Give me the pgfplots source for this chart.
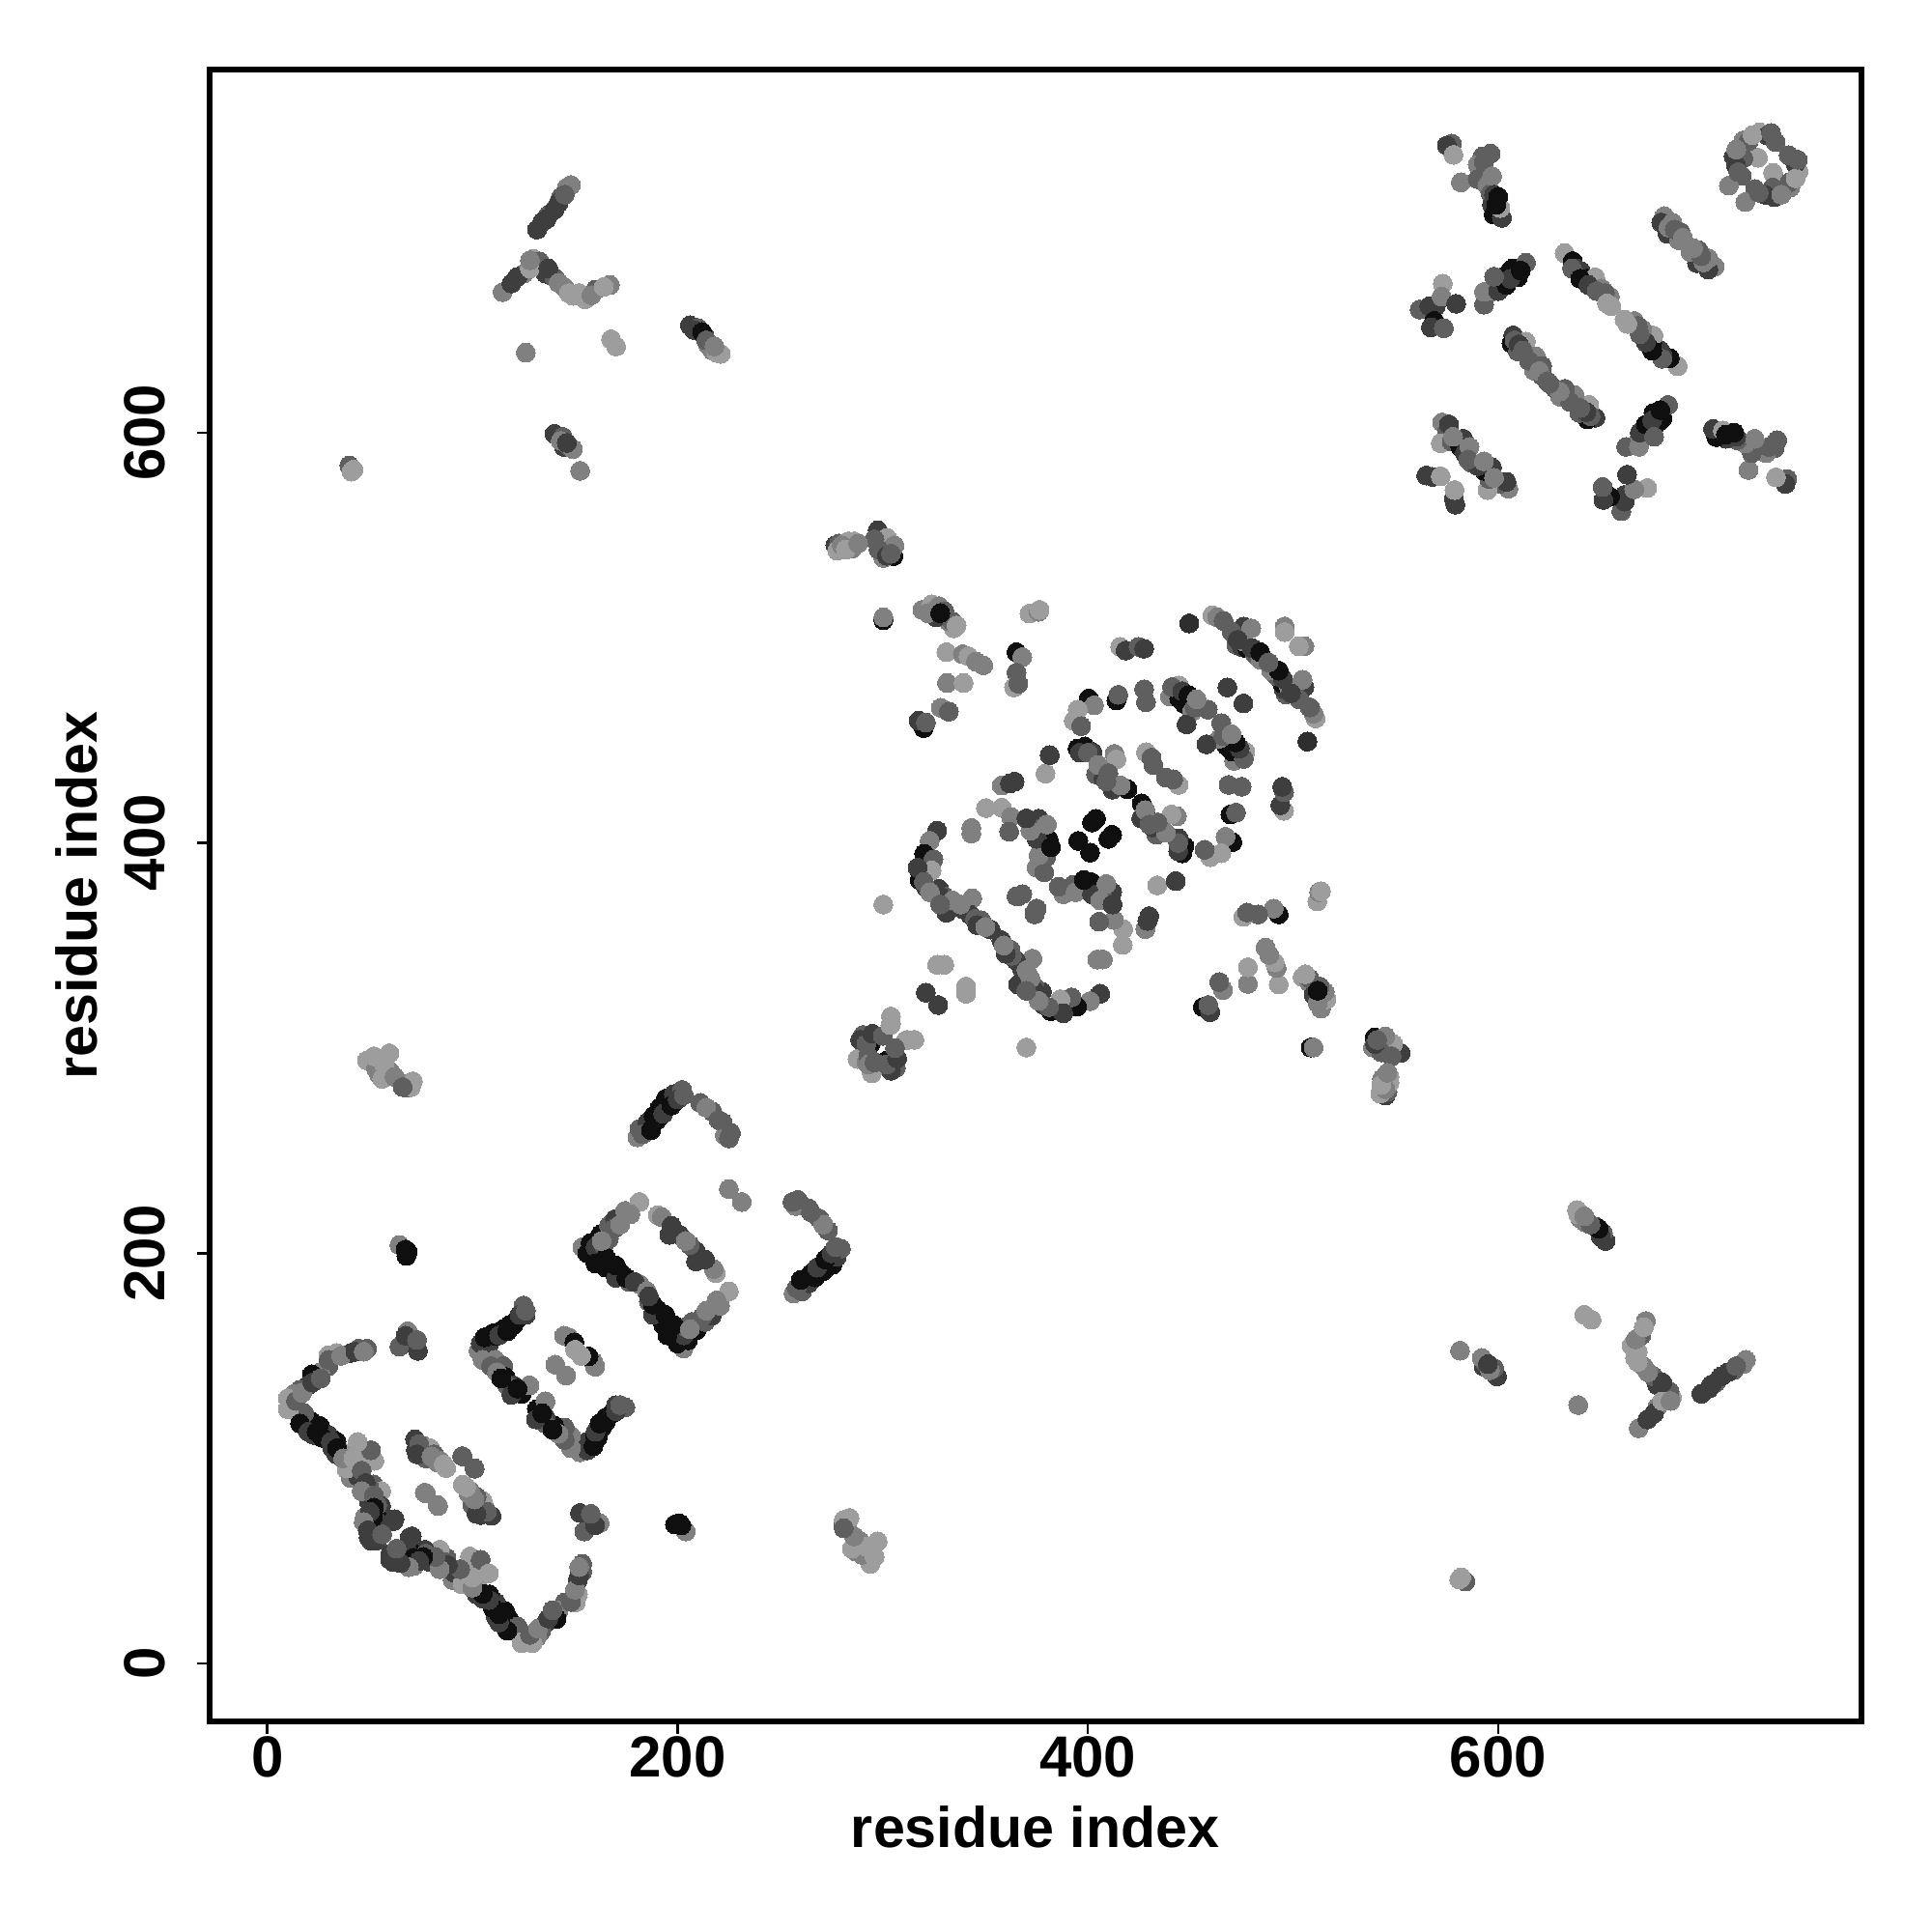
\documentclass[border=0pt]{standalone}
\usepackage{fontspec}
\setmainfont{Liberation Sans}
\usepackage{pgfplots}
\usepackage{pgfplotstable}
\pgfplotsset{compat=1.18}
\pgfplotstableread{
x y g
48.6 153.5 .37
44.6 153.5 .37
40.7 151.4 .24
33.7 151.4 .61
29.8 150.3 .61
29.8 145 .37
25.8 142 .5
21.8 141 .06
19.8 135.6 .24
15.9 133.5 .37
12.9 131.4 .5
10 129.3 .61
10 124 .61
17.9 119.9 .24
21.8 117.8 .06
25.8 115.7 .06
22.8 111.4 .24
29.8 111.4 .24
33.7 108.3 .06
31.7 105 .24
36.7 103 .61
44 107.3 .5
50.6 104 .37
52.2 98.8 .61
38.7 94.6 .61
44.6 90.4 .24
40.7 90.4 .5
51.6 87.3 .37
55.5 84.1 .61
49.6 78.9 .24
55.5 76.8 .24
47.6 71.5 .5
53.5 71.5 .06
61.5 69.4 .24
54.5 68.4 .24
50.6 59.9 .24
53.5 60 .24
62 70.4 .24
49.4 61.5 .24
51.5 71.4 .06
53.6 77.3 .37
49.4 87.2 .37
44.2 91.2 .24
39 95.2 .61
47.3 99.1 .61
50.5 104 .37
44 108 .61
33.7 102 .24
30.5 109 .24
25 116 .06
18 122 .37
10.6 124 .61
72 109.3 .24
72.4 104 .24
76.3 106 .5
79.3 105 .61
77.3 100 .37
81.3 102 .37
84.3 98.8 .5
87.2 95.3 .61
95.2 101 .37
101.1 95 .37
77.3 83 .5
83.3 76.8 .5
64.4 204 .5
67.4 201.8 .06
68.4 200.8 .06
67.8 198.7 .06
68.4 162 .5
64.4 154.5 .37
67.4 159.8 .24
73.4 152.4 .24
73 157.7 .37
48.6 294 .61
59.5 297.5 .61
54.5 287 .5
59.5 289 .5
68.4 280.7 .37
68.4 282.8 .5
71 283.8 .61
103 152.4 .5
107 150 .61
108 155.6 .24
111 159.8 .06
115 163 .06
118 165 .06
121.9 168 .06
125.9 170 .24
124.9 174.5 .37
111 148 .5
115 145 .37
116 139.8 .06
120 135.6 .24
117 135.6 .37
124 131.4 .06
127.8 135.6 .5
140.4 145.7 .5
144.7 159.8 .5
147 159 .5
149.7 156.6 .06
150 153 .61
153.6 202.9 .5
157.6 205 .06
162.5 209.2 .06
166.5 207 .37
166.5 213.4 .37
169.5 216.6 .24
174.4 220.7 .5
181.4 225 .61
158.6 198.7 .06
162.5 195.5 .06
167.5 192.4 .06
172.5 190.3 .06
176.4 186 .37
181.4 185 .5
190.3 218.6 .61
192.3 217.6 .5
197 213.4 .24
196 209 .24
201 209 .24
204 206 .37
206 204 .5
180.4 256.5 .5
181.4 260.7 .37
185.3 263.8 .24
188.3 267 .06
191.3 271 .06
194.3 275.4 .06
198.2 277.5 .24
202.2 279.6 .37
211.1 273.3 .37
217 269 .37
222 263.8 .37
223 257.5 .5
226 258.6 .37
225 231.3 .5
40 584 .37
41 581 .61
42 582 .61
131.5 699 .24
134 702.7 .24
137 706 .37
140 708.7 .24
143 714.7 .37
146 719.5 .5
148 720.7 .5
114.7 668.5 .5
119 672.7 .24
125 677.5 .5
129.7 684.7 .61
132.7 683.5 .37
135.7 677.5 .24
140 675.6 .37
144.7 671 .5
149 666.7 .61
155 665 .61
160 669.7 .37
167 672 .5
126 639 .5
167.6 645.5 .61
170 642 .61
206 652.3 .24
210 651 .37
213 647.3 .24
215 642.5 .5
217 640 .5
221 638.4 .61
140 599.4 .24
144 598 .37
144.7 593 .24
147 593.4 .37
149 592 .5
152.5 581.4 .5
276.9 545 .24
278.7 546 .37
277.8 542.5 .61
281.4 546 .5
283.2 547 .61
286 547 .61
285 543.4 .5
297.6 552.4 .24
299.4 546 .24
302 548.8 .61
305.2 539.8 .06
300.3 538.9 .5
305.7 545 .5
300.3 508.6 .06
300.3 510 .5
319.3 513.6 .5
323.8 516.3 .61
327.4 515.4 .5
330.1 511 .06
331.9 508.2 .24
334.6 504.6 .61
371.5 511.8 .61
376 512.7 .5
376.4 513.6 .61
331 493 .61
339 492 .5
341.8 491 .61
345.4 488.4 .5
349 486.6 .5
365.2 493 .06
368 490.6 .5
365.2 483 .37
364 475.8 .61
366.1 477.6 .37
331.3 478 .5
339.4 478 .61
328.3 465.9 .5
332.2 464 .37
320 456 .06
317.5 459.6 .24
321 458.7 .37
415.7 495.6 .61
418.4 493.8 .24
424.7 495.6 .37
427.4 494.7 .24
413.9 469.5 .06
414.8 472.2 .37
428.3 468.6 .37
427.4 474.9 .37
400.4 470.4 .06
403 467.1 .5
395 465 .61
393.1 459.6 .61
396.7 456.9 .37
449.4 507 .18
460.7 511 .61
463 510 .5
466.1 508.2 .37
476 505.5 .24
479.6 504.6 .5
495.9 505.5 .5
495.9 502.8 .61
472.4 496.5 .37
475 495.5 .24
477.8 494.7 .06
481.4 492 .37
484.1 489.3 .5
440 471.3 .5
444.5 476.7 .61
444.5 470.4 .06
447.2 467.7 .06
450.8 464.1 .5
448.1 457.8 .24
458.4 465 .37
468 475.8 .24
395 446 .06
398.5 447 .06
402.2 444.3 .24
413 443.4 .5
413.9 440.7 .61
428.3 444.2 .61
431 441.6 .37
431.9 438 .37
404 433.4 .37
407.6 431.6 .24
411 429 .06
413.9 428 .06
419.3 426.2 .06
358 428 .5
362 429 .24
364.3 429.9 .24
379.3 433.8 .61
381.4 442.8 .24
350.3 417 .61
358 417.2 .61
362.5 412.7 .5
361.6 405.5 .37
343.2 407.3 .5
343.2 404.6 .5
376 411.8 .24
373.3 407.3 .37
377.8 404.6 .06
380.9 401.6 .06
395.3 401 .06
402 410 .06
404 411.8 .06
326.5 406 .24
322.9 401 .5
320.2 394.7 .06
324.7 392 .37
323.8 386.6 .61
321 378.5 .24
324 377 .24
327.4 377.6 .24
330 374 .37
331 366 .24
339 367.7 .24
343.6 373 .5
342.7 365 .24
345 363 .37
348 362.3 .37
352.6 357.8 .24
365.2 374 .37
368 375 .37
374 366 .37
379.6 393 .37
375 388 .5
378.7 385.7 .37
300.3 370 .61
326.5 340.6 .61
330 340.6 .61
321 327 .24
304 315.4 .61
304 311.8 .61
290.4 306.4 .37
296.7 305.5 .5
294 302 .06
291.3 297.4 .24
287.7 294.7 .61
311.2 303.7 .61
577.4 740.9 .37
575 740 .24
578.2 735.4 .61
596.3 736 .37
592.3 734.6 .37
590 730.6 .5
581.8 722 .5
590 723.6 .37
594.7 720.4 .5
596.3 716.5 .37
597 711 .24
597.8 706.3 .06
601.8 704.7 .24
601 709.5 .61
561.7 660 .37
566.4 661.6 .24
569.6 661.6 .24
568.8 654.5 .06
567.2 651.3 .24
573.5 650.9 .37
573 672.6 .61
572.4 666.3 .5
579.5 662.8 .24
593.1 662.4 .37
593.1 668.6 .5
599.4 672.6 .37
601.8 675.7 .24
605.7 678.8 .06
609.6 675.7 .06
607 680 .06
613.5 682.8 .37
632.4 687.5 .61
636.3 683.6 .06
638 680 .24
640.2 678.8 .24
643.4 675 .06
647.3 675.7 .61
650.4 670.2 .5
654.4 666.3 .5
655.1 661.6 .61
607.3 647.4 .24
606.5 643.5 .06
609.6 639.6 .37
613.5 644.3 .61
618.3 637.2 .5
617.5 630.2 .5
621.4 632.5 .37
621.4 627.8 .37
572.7 605 .5
575 600.3 .37
572 594.8 .61
577.4 595.6 .37
581.4 593.3 .06
583.7 590.1 .24
586.9 585.4 .37
564.9 579.1 .24
568 578.4 .24
572 578.7 .61
719.5 742.4 .5
727.4 746.4 .61
731.3 744.8 .24
735.2 741.6 .37
726.6 734 .61
714.8 734.6 .24
719.5 733.8 .37
718.7 725.2 .37
712.4 720.4 .5
681 705.5 .5
679.5 702.4 .24
682.6 696.9 .24
685 702.4 .5
688.9 697.7 .37
688 693.8 .5
14 128 .37
17 132 .5
22 137 .24
26 139 .37
30 148 .37
36 150 .5
43 152 .24
47 152 .5
16 117 .06
20 113 .24
24 113 .06
27 110 .06
31 108 .24
34 105 .06
37 100 .5
42 100 .61
46 94 .37
48 88 .24
46 84 .5
52 82 .37
52 76 .06
50 74 .24
47 69 .5
49 65 .24
56 63 .37
74 107 .37
73 102 .24
80 101 .5
83 98 .5
86 97 .61
104 156 .24
106 159 .06
110 161 .06
113 160 .24
117 162 .06
120 165 .06
123 170 .24
126 172 .37
105 148 .5
109 145 .37
112 142 .5
119 131 .24
122 134 .06
114 139 .06
156 200 .06
160 203 .24
164 204 .37
160 195 .06
165 193 .06
170 188 .24
165 198 .06
170 194 .06
175 188 .06
179 186 .24
169 212 .37
172 214 .5
177 219 .5
163 206 .5
183 258 .37
187 260 .06
190 265 .06
193 268 .24
197 272 .06
200 275 .24
203 277 .37
214 271 .5
220 265 .37
225 256 .37
53 290 .5
57 292 .61
56 285 .61
62 286 .5
70 281 .61
66 281 .37
52 296 .61
328 374 .24
334 372 .5
338 370 .5
346 360 .24
350 359 .5
396 444 .24
400 444 .37
405 438 .5
410 434 .37
412 426 .24
416 428 .5
409 430 .37
378 398 .37
376 394 .5
375 402 .24
372 406 .5
370 412 .24
380 409 .5
382 398 .06
318 382 .06
317 388 .24
320 381 .37
323 376 .5
328 370 .37
441 476 .37
446 474 .24
449 472 .06
452 466 .37
453 470 .5
476 498 .5
480 495 .24
484 493 .06
488 488 .37
470 503 .37
473 499 .24
330 513 .37
332 508 .5
326 510 .24
322 512 .5
334 508 .37
336 506 .61
328 512 .06
636 680 .37
640 675 .06
644 672 .24
648 669 .37
652 668 .37
653 663 .61
608 645 .37
610 643 .24
612 640 .37
615 635 .37
620 630 .5
624 625 .37
598 669 .5
600 669 .24
604 672 .06
606 675 .24
611 679 .06
598 676 .37
583 597 .24
586 593 .5
576 604 .24
578 598 .5
593 732 .37
597 725 .5
598 716 .24
600 715 .06
599 711 .06
722 742 .37
724 745 .61
733 746 .37
716 730 .24
717 727 .37
716 738 .5
683 700 .5
686 699 .37
690 695 .5
136 704 .24
142 712 .24
145 716 .37
122 676 .24
128 680 .61
128 684 .5
137 680 .24
142 673 .5
147 668 .61
152 668 .61
158 667 .5
164 671 .61
208 650 .24
212 649 .06
214 645 .37
219 639 .61
218 642 .5
143 596 .5
146 595 .24
296 548 .37
298 543 .37
302 540 .24
304 541 .37
280 545 .5
282 543 .61
288 546 .5
289 304 .24
292 302 .37
295 307 .24
292 293 .5
300 306 .37
293 296 .37
}\contacts
\begin{document}
\begin{tikzpicture}[x=1pt,y=1pt]
\useasboundingbox (0,0) rectangle (500,500);
\begin{axis}[
  at={(54.2pt,54.5pt)}, anchor=south west,
  scale only axis, width=427.5pt, height=427.5pt,
  xmin=-28.2, xmax=777, ymin=-28.2, ymax=777,
  axis line style={line width=1.45pt},
  axis lines=box, xtick pos=bottom, ytick pos=left,
  tick align=outside, major tick length=3.2pt,
  every tick/.style={black, line width=0.6pt},
  xtick={0,200,400,600}, ytick={0,200,400,600},
  /pgf/number format/assume math mode=true,
  /pgf/number format/fixed,
  xticklabel style={font=\fontsize{15}{18}\selectfont\bfseries, inner sep=0pt, anchor=north, yshift=-0.5pt},
  yticklabel style={font=\fontsize{15}{18}\selectfont\bfseries, rotate=90, inner sep=0pt, anchor=south, yshift=8pt},
  xlabel={residue index}, ylabel={residue index},
  xlabel style={font=\fontsize{14.8}{18}\selectfont\bfseries, at={(axis description cs:0.5,0)}, anchor=center, yshift=-27.4pt, inner sep=0pt},
  ylabel style={font=\fontsize{14.8}{18}\selectfont\bfseries, at={(axis description cs:0,0.5)}, anchor=center, yshift=34.4pt, inner sep=0pt},
  colormap={grays}{gray(0cm)=(0); gray(1cm)=(1)},
  point meta min=0, point meta max=1,
  clip=true,
]
\addplot[scatter, only marks, mark=*, mark size=2.45pt, point meta=explicit,
  mark options={line width=0pt},
  scatter/use mapped color={draw=mapped color, fill=mapped color}]
  table[x index=0, y index=1, meta index=2] {\contacts};
\addplot[scatter, only marks, mark=*, mark size=2.45pt, point meta=explicit,
  mark options={line width=0pt},
  scatter/use mapped color={draw=mapped color, fill=mapped color}]
  table[x index=1, y index=0, meta index=2] {\contacts};
\end{axis}
\end{tikzpicture}
\end{document}
